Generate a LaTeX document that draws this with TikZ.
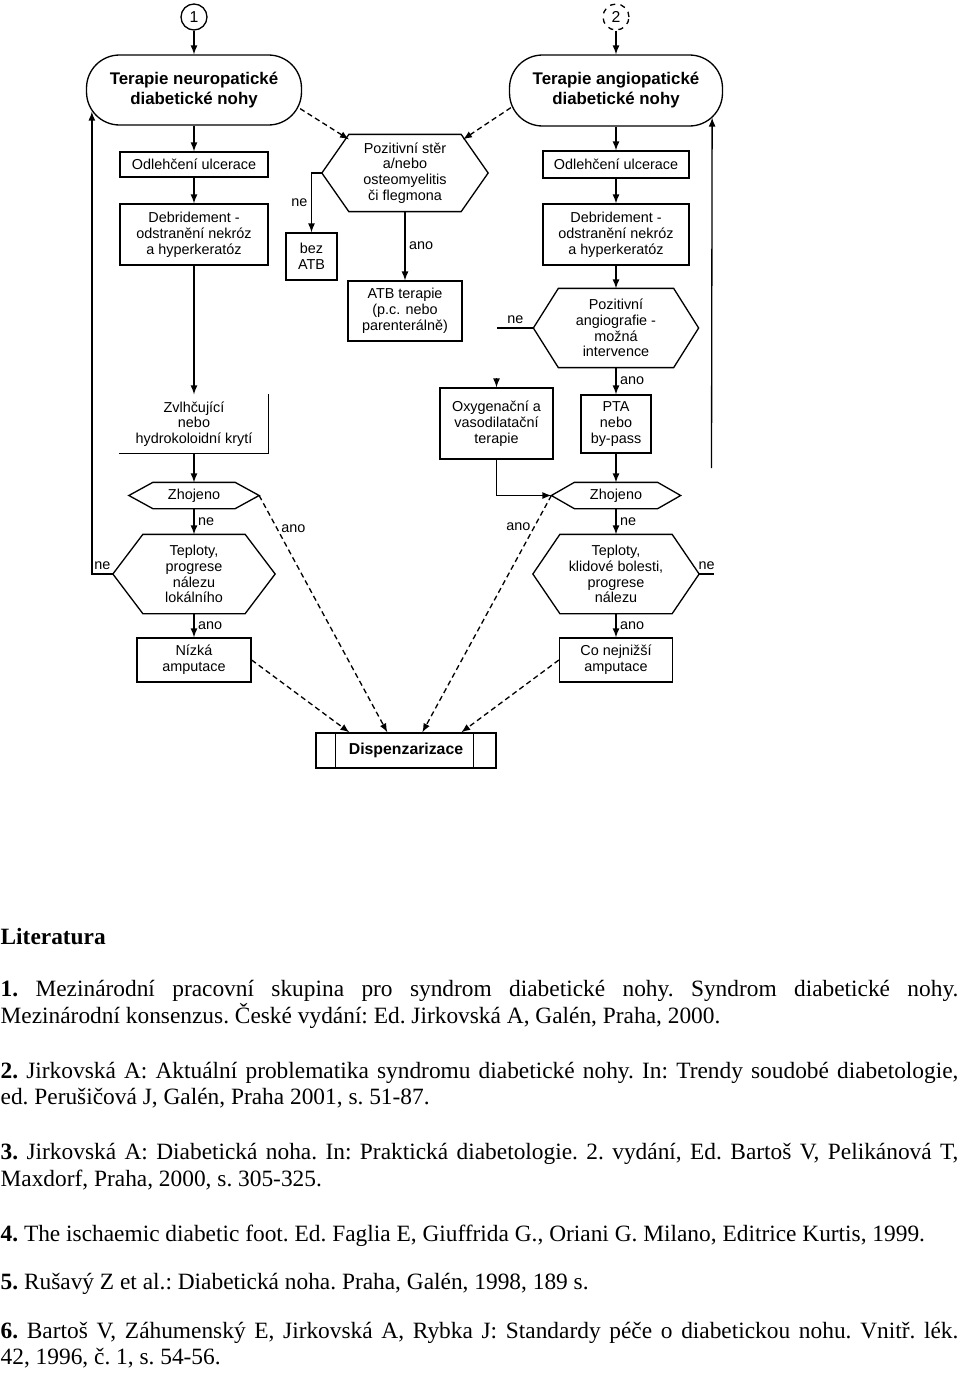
\documentclass[tikz,border=0pt]{standalone}
\usepackage{fontspec}
\setmainfont{Liberation Serif}
\newfontfamily\flowsans{Liberation Sans}
\newcommand\flowfont{\flowsans\fontsize{8.2}{9}\selectfont}
\newcommand\termfont{\flowsans\bfseries\fontsize{9.6}{11.4}\selectfont}
\newcommand\litfont{\fontsize{13.3}{15}\selectfont\frenchspacing}
\newlength\litw
\setlength\litw{19.16cm}
\newcommand\hexline[2]{\draw (#1.west) -- ([xshift=#2]#1.north west) -- ([xshift=-#2]#1.north east) -- (#1.east) -- ([xshift=-#2]#1.south east) -- ([xshift=#2]#1.south west) -- cycle;}
\tikzset{
  box/.style={draw, rectangle, align=center, font=\flowfont, inner sep=1pt},
  term/.style={draw, rectangle, rounded corners=0.66cm, align=center, font=\termfont},
  dec/.style={rectangle, align=center, font=\flowfont, inner sep=1pt},
  lbl/.style={font=\flowfont, inner sep=2pt},
  conn/.style={circle, draw, minimum size=0.52cm, inner sep=0pt, font=\flowsans\fontsize{9}{10}\selectfont},
  lit/.style={anchor=base west, inner sep=0pt, font=\litfont}
}
\usetikzlibrary{positioning}

\begin{document}
\begin{tikzpicture}[>=latex, x=0.02cm, y=-0.02cm, line width=0.75pt]
\useasboundingbox (0,0) rectangle (960,1376);

% neuropaticka vetev
\node[conn] (c1) at (194,17) {1};
\node[term, minimum width=4.3cm, minimum height=1.4cm] (t1) at (194,90) {Terapie neuropatické\\diabetické nohy};
\node[box, minimum width=2.96cm, minimum height=0.5cm] (o1) at (194,164.5) {Odlehčení ulcerace};
\node[box, minimum width=2.96cm, minimum height=1.22cm] (d1) at (194,234.5) {Debridement -\\odstranění nekróz\\a hyperkeratóz};
\node[dec, minimum width=2.96cm, minimum height=1.16cm] (zv) at (194,424) {Zvlhčující\\nebo\\hydrokoloidní krytí};
\node[dec, minimum width=2.58cm, minimum height=0.5cm] (z1) at (194,495.5) {Zhojeno};
\node[dec, minimum width=3.22cm, minimum height=1.56cm] (tp1) at (194,574) {Teploty,\\progrese\\nálezu\\lokálního};
\node[box, minimum width=2.28cm, minimum height=0.88cm] (n1) at (194,660) {Nízká\\amputace};

% infekce
\node[dec, minimum width=3.3cm, minimum height=1.52cm] (h1) at (405,173) {Pozitivní stěr\\a/nebo\\osteomyelitis\\či flegmona};
\node[box, minimum width=1.02cm, minimum height=0.94cm] (bez) at (311.5,256.5) {bez\\ATB};
\node[box, minimum width=2.28cm, minimum height=1.2cm] (atb) at (405,311) {ATB terapie\\(p.c. nebo\\parenterálně)};

% angiopaticka vetev
\node[conn, dashed] (c2) at (616,17) {2};
\node[term, minimum width=4.26cm, minimum height=1.42cm] (t2) at (616,90.5) {Terapie angiopatické\\diabetické nohy};
\node[box, minimum width=2.92cm, minimum height=0.54cm] (o2) at (616,164.5) {Odlehčení ulcerace};
\node[box, minimum width=2.92cm, minimum height=1.22cm] (d2) at (616,234.5) {Debridement -\\odstranění nekróz\\a hyperkeratóz};
\node[dec, minimum width=3.28cm, minimum height=1.56cm] (a2) at (616,328) {Pozitivní\\angiografie -\\možná\\intervence};
\node[box, minimum width=2.26cm, minimum height=1.42cm] (ox) at (496.5,423.5) {Oxygenační a\\vasodilatační\\terapie};
\node[box, minimum width=1.4cm, minimum height=1.16cm] (pta) at (616,424) {PTA\\nebo\\by-pass};
\node[dec, minimum width=2.56cm, minimum height=0.5cm] (z2) at (616,495.5) {Zhojeno};
\node[dec, minimum width=3.3cm, minimum height=1.56cm] (tp2) at (616,574) {Teploty,\\klidové bolesti,\\progrese\\nálezu};
\node[box, minimum width=2.26cm, minimum height=0.88cm] (cn) at (616,660) {Co nejnižší\\amputace};

\node[box, font=\flowsans\bfseries\fontsize{9}{10}\selectfont, minimum width=3.6cm, minimum height=0.7cm] (disp) at (406,750.5) {Dispenzarizace};
\draw ([xshift=0.4cm]disp.north west) -- ([xshift=0.4cm]disp.south west);
\draw ([xshift=-0.46cm]disp.north east) -- ([xshift=-0.46cm]disp.south east);

\hexline{h1}{0.54cm}
\hexline{z1}{0.48cm}
\hexline{tp1}{0.6cm}
\hexline{a2}{0.5cm}
\hexline{z2}{0.46cm}
\hexline{tp2}{0.54cm}
\draw (zv.north east) -- (zv.south east) -- (zv.south west);

% spojnice
\draw[->] (c1) -- (t1);
\draw[->] (t1) -- (o1);
\draw[->] (o1) -- (d1);
\draw[->] (d1) -- (zv);
\draw[->] (zv) -- (z1);
\draw[->] (z1) -- node[lbl, right] {ne} (tp1);
\draw[->] (tp1) -- node[lbl, right] {ano} (n1);
\draw[->] (tp1.west) -| node[lbl, pos=0.25, above] {ne} ([xshift=0.12cm, yshift=0.28cm]t1.south west);

\draw[->] (c2) -- (t2);
\draw[->] (t2) -- (o2);
\draw[->] (o2) -- (d2);
\draw[->] (d2) -- (a2);
\draw[->] (a2) -- node[lbl, right] {ano} (pta);
\draw[->] (pta) -- (z2);
\draw[->] (z2) -- node[lbl, right] {ne} (tp2);
\draw[->] (tp2) -- node[lbl, right] {ano} (cn);
\draw (a2.west) -- ++(-36,0) node[lbl, midway, above] {ne};
\draw[->] ([yshift=0.18cm]ox.north) -- (ox.north);
\draw[->] (ox.south) |- (z2.west);
\draw (tp2.east) -- ++(15,0) node[lbl, midway, above] {ne};
\coordinate (rgap) at (711.5,468);
\draw[->] (rgap) -- ([xshift=-0.22cm, yshift=0.18cm]t2.south east);

\draw[densely dashed, ->] ([shift={(-0.04cm,0.34cm)}]t1.south east) -- ([shift={(0.54cm,-0.1cm)}]h1.north west);
\draw[densely dashed, ->] ([shift={(0.04cm,0.38cm)}]t2.south west) -- ([shift={(-0.5cm,-0.1cm)}]h1.north east);
\draw[->] (h1.west) -| node[lbl, pos=0.75, left] {ne} (bez.north);
\draw[->] (h1) -- node[lbl, right] {ano} (atb);

\draw[densely dashed, ->] (n1.east) -- ([xshift=0.68cm]disp.north west);
\draw[densely dashed, ->] (z1.east) -- node[lbl, pos=0.14, right] {ano} ([xshift=1.44cm]disp.north west);
\draw[densely dashed, ->] (z2.west) -- node[lbl, pos=0.13, left] {ano} ([xshift=2.14cm]disp.north west);
\draw[densely dashed, ->] (cn.west) -- ([xshift=2.92cm]disp.north west);

% literatura
\node[lit, font=\litfont\bfseries] (lt) at (0,944) {Literatura};
\node[lit] (r1a) at (0,996) {\makebox[\litw][s]{\textbf{1.} Mezinárodní pracovní skupina pro syndrom diabetické nohy. Syndrom diabetické nohy.}};
\node[lit] (r1b) at (0,1023) {Mezinárodní konsenzus. České vydání: Ed. Jirkovská A, Galén, Praha, 2000.};
\node[lit] (r2a) at (0,1078) {\makebox[\litw][s]{\textbf{2.} Jirkovská A: Aktuální problematika syndromu diabetické nohy. In: Trendy soudobé diabetologie,}};
\node[lit] (r2b) at (0,1104) {ed. Perušičová J, Galén, Praha 2001, s. 51-87.};
\node[lit] (r3a) at (0,1159) {\makebox[\litw][s]{\textbf{3.} Jirkovská A: Diabetická noha. In: Praktická diabetologie. 2. vydání, Ed. Bartoš V, Pelikánová T,}};
\node[lit] (r3b) at (0,1186) {Maxdorf, Praha, 2000, s. 305-325.};
\node[lit] (r4) at (0,1241) {\textbf{4.} The ischaemic diabetic foot. Ed. Faglia E, Giuffrida G., Oriani G. Milano, Editrice Kurtis, 1999.};
\node[lit] (r5) at (0,1289) {\textbf{5.} Rušavý Z et al.: Diabetická noha. Praha, Galén, 1998, 189 s.};
\node[lit] (r6a) at (0,1338) {\makebox[\litw][s]{\textbf{6.} Bartoš V, Záhumenský E, Jirkovská A, Rybka J: Standardy péče o diabetickou nohu. Vnitř. lék.}};
\node[lit] (r6b) at (0,1364) {42, 1996, č. 1, s. 54-56.};
\end{tikzpicture}
\end{document}
